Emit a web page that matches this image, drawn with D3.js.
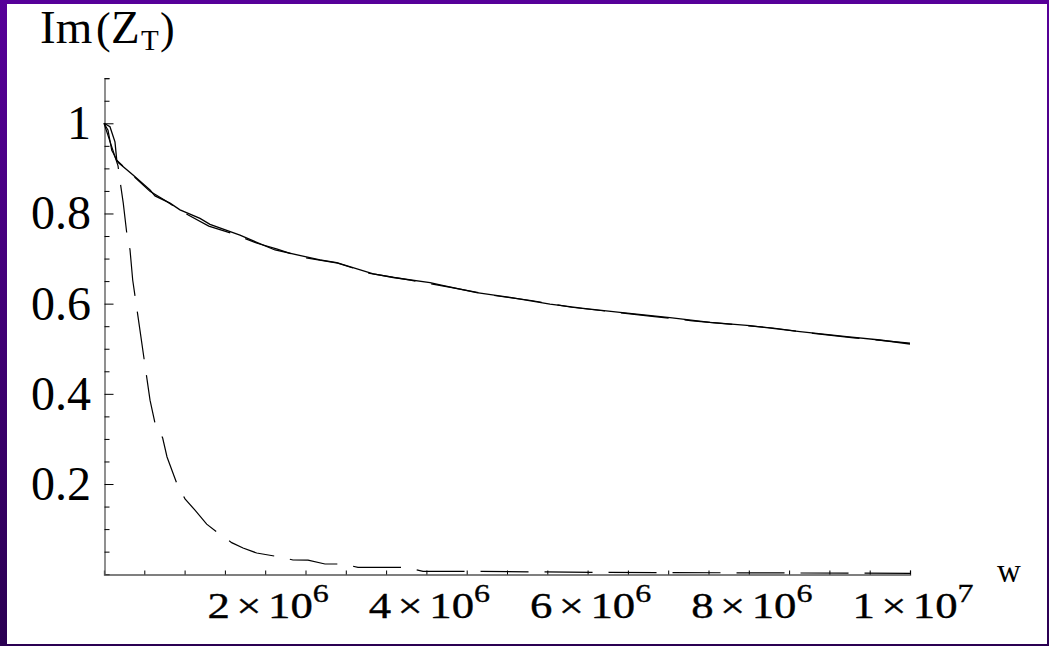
<!DOCTYPE html>
<html><head><meta charset="utf-8">
<script src="https://cdn.jsdelivr.net/npm/d3@7"></script>
<style>html,body{margin:0;padding:0;background:#fff;}svg{display:block;}</style>
</head><body>
<svg id="c" width="1049" height="646"></svg>
<script>
// ---- data ----
const yTicks = [0.2, 0.4, 0.6, 0.8, 1];
const yTickLabels = ["0.2", "0.4", "0.6", "0.8", "1"];
const xTicks = [2e6, 4e6, 6e6, 8e6, 1e7];
const xTickMantissa = ["2", "4", "6", "8", "1"];
const xTickExponent = ["6", "6", "6", "6", "7"];
// solid upper curve [w, Im(Z_T)]
const solidUpper = [[0,1.0],[7.4e4,0.9925],[1.36e5,0.959],[1.58e5,0.9186],[1.77e5,0.913],[3.64e5,0.885],[5.71e5,0.852],[6.33e5,0.839],[8.19e5,0.823],[9.43e5,0.808],[1.191e6,0.789],[1.315e6,0.776],[1.687e6,0.752],[1.895e6,0.736],[2.122e6,0.719],[2.68e6,0.697],[2.887e6,0.691],[3.341e6,0.666],[3.589e6,0.658],[4.045e6,0.6465],[4.169e6,0.6414],[4.624e6,0.6243],[5.037e6,0.614],[5.533e6,0.599],[5.947e6,0.5897],[6.402e6,0.5808],[7.022e6,0.5689],[7.519e6,0.5587],[8.015e6,0.5511],[8.635e6,0.5378],[9.214e6,0.5267],[9.628e6,0.5194],[1e7,0.5105]];
// dashed upper curve
const dashedUpper = [[0,1.0],[5e4,0.9845],[9.6e4,0.94],[1.16e5,0.9335],[1.58e5,0.918],[3.6e5,0.884],[5.7e5,0.849],[7.5e5,0.83],[9.5e5,0.806],[1.3e6,0.772],[1.6e6,0.755],[1.9e6,0.734],[2.15e6,0.721],[2.45e6,0.703],[2.9e6,0.69],[3.3e6,0.667],[3.8e6,0.652],[4.3e6,0.636],[4.8e6,0.619],[5.3e6,0.607],[5.8e6,0.592],[6.3e6,0.582],[6.8e6,0.572],[7.3e6,0.562],[7.8e6,0.554],[8.3e6,0.546],[8.8e6,0.534],[9.3e6,0.524],[9.8e6,0.516],[1e7,0.5125]];
// dashed lower curve
const dashedLower = [[0,1.0],[1.74e5,0.9055],[1.99e5,0.872],[2.39e5,0.823],[2.82e5,0.757],[3.23e5,0.719],[3.56e5,0.6525],[4.47e5,0.54],[5.71e5,0.386],[6.33e5,0.335],[7.28e5,0.302],[7.82e5,0.26],[9.02e5,0.202],[1.005e6,0.167],[1.129e6,0.142],[1.274e6,0.111],[1.398e6,0.094],[1.584e6,0.07],[1.725e6,0.058],[1.895e6,0.047],[2.159e6,0.039],[2.345e6,0.0315],[2.531e6,0.031],[2.742e6,0.0226],[2.965e6,0.0226],[3.151e6,0.0153],[3.734e6,0.0153],[3.958e6,0.0064],[4.541e6,0.0064],[6.15e6,0.004],[1e7,0.002]];

// ---- drawing ----
const svg = d3.select("#c");
const defs = svg.append("defs");
const g = defs.append("linearGradient").attr("id","bg").attr("x1",0).attr("y1",0).attr("x2",0).attr("y2",1);
g.append("stop").attr("offset","0%").attr("stop-color","#570099");
g.append("stop").attr("offset","100%").attr("stop-color","#2a0052");
svg.append("rect").attr("width",1049).attr("height",646).attr("fill","url(#bg)");
svg.append("rect").attr("x",7).attr("y",4).attr("width",1040).attr("height",640).attr("fill","#fff");

const x = d3.scaleLinear().domain([0,1e7]).range([104,910]);
const y = d3.scaleLinear().domain([0,1.1]).range([574.2,78.2]);

const font = "'Liberation Serif','Times New Roman',serif";

// axes (Mathematica-style, ticks inward)
const minorY = d3.range(0, 1.1001, 0.05);
const yAx = d3.axisRight(y).tickValues(minorY).tickSize(5).tickFormat("");
const yG = svg.append("g").attr("transform","translate(104.5,0)").call(yAx);
yG.select(".domain").attr("stroke","#555").attr("stroke-width",1.3);
yG.selectAll(".tick line").attr("stroke","#000").attr("stroke-width",1)
  .attr("x2", d => (Math.abs(d*5 - Math.round(d*5))<1e-6 && d>0 ? 9 : 5));

const minorX = d3.range(0, 1e7+1, 5e5);
const xAx = d3.axisTop(x).tickValues(minorX).tickSize(4).tickFormat("");
const xG = svg.append("g").attr("transform","translate(0,574.5)").call(xAx);
xG.select(".domain").attr("stroke","#555").attr("stroke-width",1.3);
xG.selectAll(".tick line").attr("stroke","#000").attr("stroke-width",1);
xG.selectAll(".tick line").filter(d=>d===0).remove();

// y tick labels
svg.append("g").selectAll("text").data(yTicks).join("text")
  .attr("x",91).attr("y",d=>y(d)+16).attr("text-anchor","end")
  .attr("font-family",font).attr("font-size",48).attr("fill","#000")
  .text((d,i)=>yTickLabels[i]);

// x tick labels (horizontally widened, as in the reference)
const xl = svg.append("g").selectAll("text").data(xTicks).join("text")
  .attr("transform",d=>`translate(${x(d)+3},618) scale(1.28,1)`)
  .attr("text-anchor","middle")
  .attr("font-family",font).attr("font-size",35).attr("fill","#000")
  .attr("stroke","#000").attr("stroke-width",0.35);
xl.append("tspan").text((d,i)=>xTickMantissa[i]);
xl.append("tspan").attr("dx",5).text("\u00d7");
xl.append("tspan").attr("dx",5).text("10");
xl.append("tspan").attr("dy",-16).attr("font-size",25).text((d,i)=>xTickExponent[i]);

// axis labels
const yl = svg.append("text").attr("y",43).attr("font-family",font).attr("font-size",47).attr("fill","#000");
yl.append("tspan").attr("x",40).text("Im");
yl.append("tspan").attr("x",96).attr("font-size",44).text("(");
yl.append("tspan").attr("x",111).text("Z");
yl.append("tspan").attr("x",141).attr("dy",7).attr("font-size",29).text("T");
yl.append("tspan").attr("x",160).attr("dy",-7).attr("font-size",44).text(")");
svg.append("text").attr("x",997).attr("y",582).attr("font-family",font).attr("font-size",33).attr("fill","#000").text("w");

// curves
const line = d3.line().x(d=>x(d[0])).y(d=>y(d[1]));
svg.append("path").datum(solidUpper).attr("d",line).attr("fill","none").attr("stroke","#000").attr("stroke-width",1.3);
svg.append("path").datum(dashedUpper).attr("d",line).attr("fill","none").attr("stroke","#000").attr("stroke-width",1.2).attr("stroke-dasharray","48,16");
svg.append("path").datum(dashedLower).attr("d",line).attr("fill","none").attr("stroke","#000").attr("stroke-width",1.2).attr("stroke-dasharray","48,16");
</script>
</body></html>
